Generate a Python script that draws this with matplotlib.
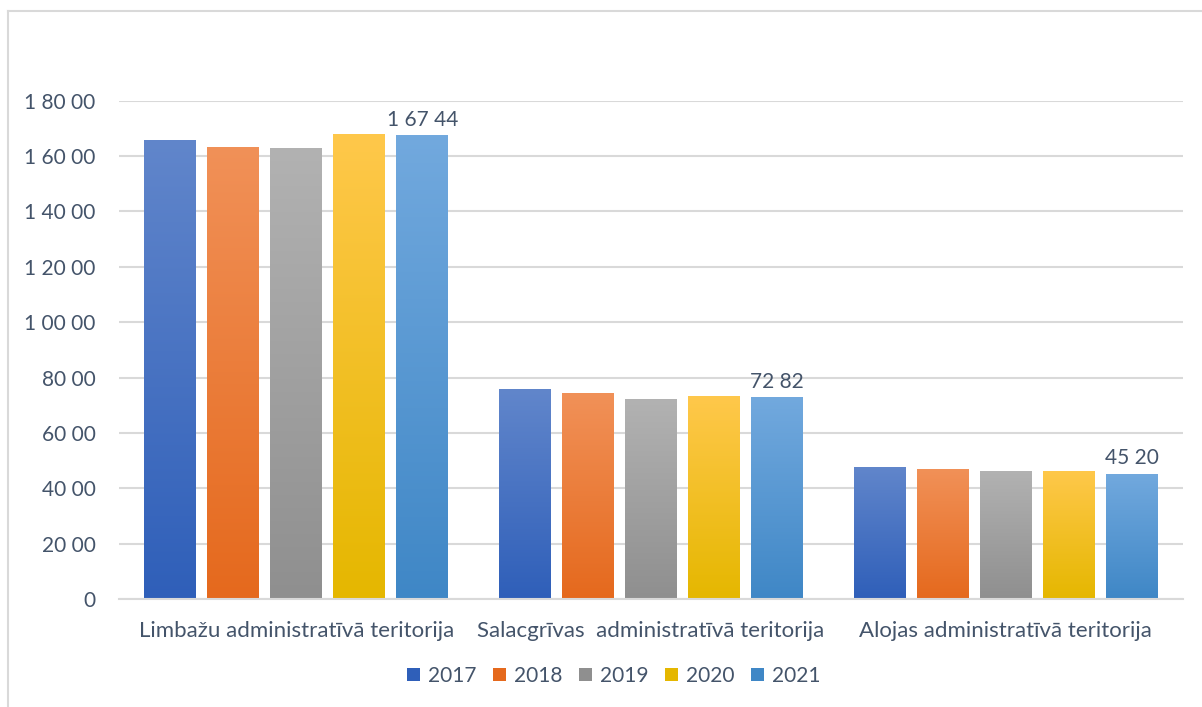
import numpy as np
import matplotlib
matplotlib.use("Agg")
import matplotlib.pyplot as plt
from matplotlib.colors import LinearSegmentedColormap
from matplotlib.lines import Line2D
from matplotlib.patches import Patch

categories = [
    "Limbažu administratīvā teritorija",
    "Salacgrīvas  administratīvā teritorija",
    "Alojas administratīvā teritorija",
]
years = ["2017", "2018", "2019", "2020", "2021"]
values = {
    "2017": [16590, 7580, 4780],
    "2018": [16340, 7440, 4705],
    "2019": [16300, 7220, 4635],
    "2020": [16810, 7330, 4635],
    "2021": [16744, 7282, 4520],
}
y_ticks = [0, 2000, 4000, 6000, 8000, 10000, 12000, 14000, 16000, 18000]

# top / bottom colours of the gradient fill per series
grad_colors = {
    "2017": ("#6186CB", "#2F5FB9"),
    "2018": ("#F19158", "#E5691D"),
    "2019": ("#B2B2B2", "#8F8F8F"),
    "2020": ("#FFC84B", "#E5B700"),
    "2021": ("#72A9DE", "#3F87C6"),
}
text_color = "#44546A"
grid_color = "#D9D9D9"

plt.rcParams["font.family"] = ["Lato", "DejaVu Sans"]


def pair_format(v):
    s = str(int(round(v)))
    if s == "0":
        return "0"
    parts = []
    while len(s) > 2:
        parts.insert(0, s[-2:])
        s = s[:-2]
    if s:
        parts.insert(0, s)
    return " ".join(parts)


fig = plt.figure(figsize=(12.02, 7.07), dpi=100)
ax = fig.add_axes([119 / 1202, 108 / 707, 1064 / 1202, 498.3 / 707])

x = np.arange(len(categories))
pitch = 0.1776
width = 0.1466
grad = np.linspace(1, 0, 256).reshape(-1, 1)

for i, yr in enumerate(years):
    offs = (i - 2) * pitch
    bars = ax.bar(x + offs, values[yr], width=width, color="none", zorder=2)
    cmap = LinearSegmentedColormap.from_list("g" + yr, [grad_colors[yr][1], grad_colors[yr][0]])
    for b in bars:
        x0, h = b.get_x(), b.get_height()
        im = ax.imshow(grad, cmap=cmap, aspect="auto", extent=(x0, x0 + width, 0, h),
                       zorder=2, interpolation="bilinear")
        im.set_clip_path(b)
    if yr == "2021":
        for b, v in zip(bars, values[yr]):
            ax.annotate(pair_format(v), (b.get_x() + width / 2, b.get_height()),
                        xytext=(0, 4), textcoords="offset points", ha="center", va="bottom",
                        fontsize=15, color=text_color)

ax.set_xlim(-0.5, 2.5)
ax.set_ylim(0, 18000)
ax.set_yticks(y_ticks)
ax.set_yticklabels([pair_format(t) for t in y_ticks])
ax.set_xticks(x)
ax.set_xticklabels(categories)
ax.tick_params(axis="y", length=0, pad=17, labelsize=15, labelcolor=text_color)
ax.tick_params(axis="x", length=0, pad=16, labelsize=16, labelcolor=text_color)
ax.grid(axis="y", color=grid_color, linewidth=1.5, zorder=0)
ax.set_axisbelow(True)
for side in ["top", "right", "left"]:
    ax.spines[side].set_visible(False)
ax.spines["bottom"].set_color(grid_color)
ax.spines["bottom"].set_linewidth(1.5)

handles = [Patch(facecolor=grad_colors[yr][1], edgecolor="none") for yr in years]
fig.legend(handles, years, loc="center", bbox_to_anchor=(614 / 1202, 1 - 676 / 707),
           ncol=5, frameon=False, fontsize=15, labelcolor=text_color,
           handlelength=0.6, handleheight=0.6, handletextpad=0.4, columnspacing=0.8)

# outer chart border (partially cropped in the source)
fig.add_artist(Line2D([8 / 1202, 8 / 1202], [0, 1 - 11 / 707], color=grid_color, linewidth=1.5))
fig.add_artist(Line2D([8 / 1202, 1], [1 - 11 / 707, 1 - 11 / 707], color=grid_color, linewidth=1.5))

fig.savefig("out.png", dpi=100)
plt.close(fig)
